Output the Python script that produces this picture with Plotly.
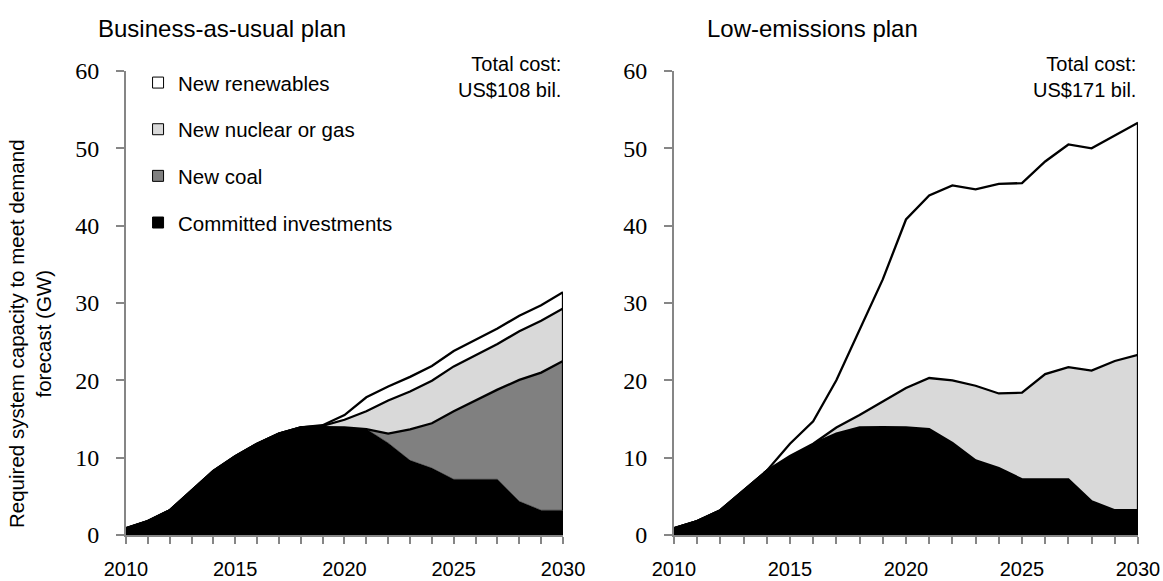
import plotly.graph_objects as go
from plotly.subplots import make_subplots

years = list(range(2010, 2031))
year_labels = [str(y) if y % 5 == 0 else "" for y in years]

committed = [0.86, 1.8, 3.2, 5.8, 8.3, 10.2, 11.8, 13.1, 13.9, 13.95, 13.9, 13.7,
             11.9, 9.65, 8.65, 7.2, 7.2, 7.2, 4.35, 3.2, 3.2]

# Business-as-usual plan (increments stacked on committed)
bau_coal = [0, 0, 0, 0, 0, 0, 0, 0, 0, 0, 0, 0,
            1.2, 4.0, 5.8, 8.8, 10.2, 11.6, 15.7, 17.8, 19.3]
bau_nuclear_gas = [0, 0, 0, 0, 0, 0, 0, 0, 0, 0.15, 1.0, 2.3,
                   4.3, 4.9, 5.5, 5.8, 5.9, 5.9, 6.3, 6.7, 6.8]
bau_renewables = [0, 0, 0, 0, 0, 0, 0, 0, 0, 0.1, 0.6, 1.8,
                  1.8, 1.9, 1.9, 2.0, 2.0, 2.0, 2.0, 2.0, 2.1]

# Low-emissions plan
low_coal = [0] * 21
low_nuclear_gas = [0, 0, 0, 0, 0, 0, 0, 0.8, 1.6, 3.3, 5.1, 6.6,
                   8.1, 9.65, 9.65, 11.2, 13.6, 14.5, 16.9, 19.3, 20.1]
low_renewables = [0, 0, 0, 0, 0, 1.6, 2.9, 6.1, 11.0, 15.8, 21.8, 23.6,
                  25.2, 25.4, 27.1, 27.1, 27.5, 28.8, 28.75, 29.2, 30.0]

series_names = ["Committed investments", "New coal", "New nuclear or gas", "New renewables"]
fill_colors = ["#000000", "#808080", "#d9d9d9", "#ffffff"]

titles = ["Business-as-usual plan", "Low-emissions plan"]
costs = ["Total cost:<br>US$108 bil.", "Total cost:<br>US$171 bil."]

SANS = "Liberation Sans, Arial, sans-serif"
SERIF = "Liberation Serif, Times New Roman, serif"
AXIS_GRAY = "#868686"

fig = make_subplots(rows=1, cols=2)

plans = [
    [committed, bau_coal, bau_nuclear_gas, bau_renewables],
    [committed, low_coal, low_nuclear_gas, low_renewables],
]

for col, stack in enumerate(plans, start=1):
    for i, (vals, name, fc) in enumerate(zip(stack, series_names, fill_colors)):
        fig.add_trace(go.Scatter(
            x=years, y=vals, name=name, mode="lines",
            stackgroup=f"s{col}", fillcolor=fc,
            line=dict(color="black", width=0.5 if i == 0 else 2.3),
            showlegend=False, hoverinfo="skip",
        ), row=1, col=col)
    # closing right edge of the stacked areas (Excel-style border)
    top = sum(s[-1] for s in stack)
    fig.add_trace(go.Scatter(
        x=[years[-1], years[-1]], y=[stack[0][-1], top], mode="lines",
        line=dict(color="black", width=2.3), showlegend=False,
        hoverinfo="skip", cliponaxis=False,
    ), row=1, col=col)

# legend entries (square markers)
for name, fc in reversed(list(zip(series_names, fill_colors))):
    fig.add_trace(go.Scatter(
        x=[None], y=[None], mode="markers", name=name, legendgroup=name,
        marker=dict(symbol="square", size=11, color=fc,
                    line=dict(color="black", width=1)),
        showlegend=True,
    ), row=1, col=1)

xdom = [[0.1083, 0.4841], [0.5795, 0.9785]]
ydom = [0.0792, 0.8778]

for col in (1, 2):
    fig.update_xaxes(
        domain=xdom[col - 1], range=[years[0], years[-1]], automargin=False,
        tickmode="array", tickvals=years, ticktext=year_labels,
        ticks="outside", ticklen=7, tickwidth=1.5, tickcolor=AXIS_GRAY,
        showline=True, linecolor=AXIS_GRAY, linewidth=1.6,
        showgrid=False, zeroline=False, ticklabelstandoff=8,
        tickfont=dict(family=SANS, size=20, color="black"),
        row=1, col=col,
    )
    fig.update_yaxes(
        domain=ydom, range=[0, 60], tickvals=[0, 10, 20, 30, 40, 50, 60],
        automargin=False,
        ticks="outside", ticklen=8, tickwidth=1.5, tickcolor=AXIS_GRAY,
        showline=True, linecolor=AXIS_GRAY, linewidth=1.6,
        showgrid=False, zeroline=False, ticklabelstandoff=12,
        tickfont=dict(family=SERIF, size=24, color="black"),
        row=1, col=col,
    )

title_x = [222 / 1163, 812 / 1163]
for k in range(2):
    fig.add_annotation(
        text=titles[k], xref="paper", yref="paper", x=title_x[k], y=0.951,
        xanchor="center", yanchor="middle", showarrow=False,
        font=dict(family=SANS, size=24, color="black"),
    )
    xr = "x domain" if k == 0 else "x2 domain"
    fig.add_annotation(
        text=costs[k], xref=xr, yref="paper", x=1.0, y=0.912,
        xanchor="right", yanchor="top", align="right", showarrow=False,
        font=dict(family=SANS, size=20, color="black"),
    )

fig.add_annotation(
    text="Required system capacity to meet demand<br>forecast (GW)",
    xref="paper", yref="paper", x=30 / 1163, y=(581 - 334) / 581,
    xanchor="center", yanchor="middle", textangle=-90, showarrow=False,
    font=dict(family=SANS, size=20.5, color="black"),
)

fig.update_layout(
    width=1163, height=581,
    margin=dict(l=0, r=0, t=0, b=0, autoexpand=False),
    paper_bgcolor="white", plot_bgcolor="white",
    showlegend=True,
    legend=dict(
        x=0.1187, y=0.892, xanchor="left", yanchor="top",
        traceorder="grouped", tracegroupgap=17,
        font=dict(family=SANS, size=20.5, color="black"),
        bgcolor="rgba(0,0,0,0)", itemwidth=30,
    ),
)

fig.write_html("out.html", config={"displayModeBar": False},
               post_script="document.body.style.margin='0';")
